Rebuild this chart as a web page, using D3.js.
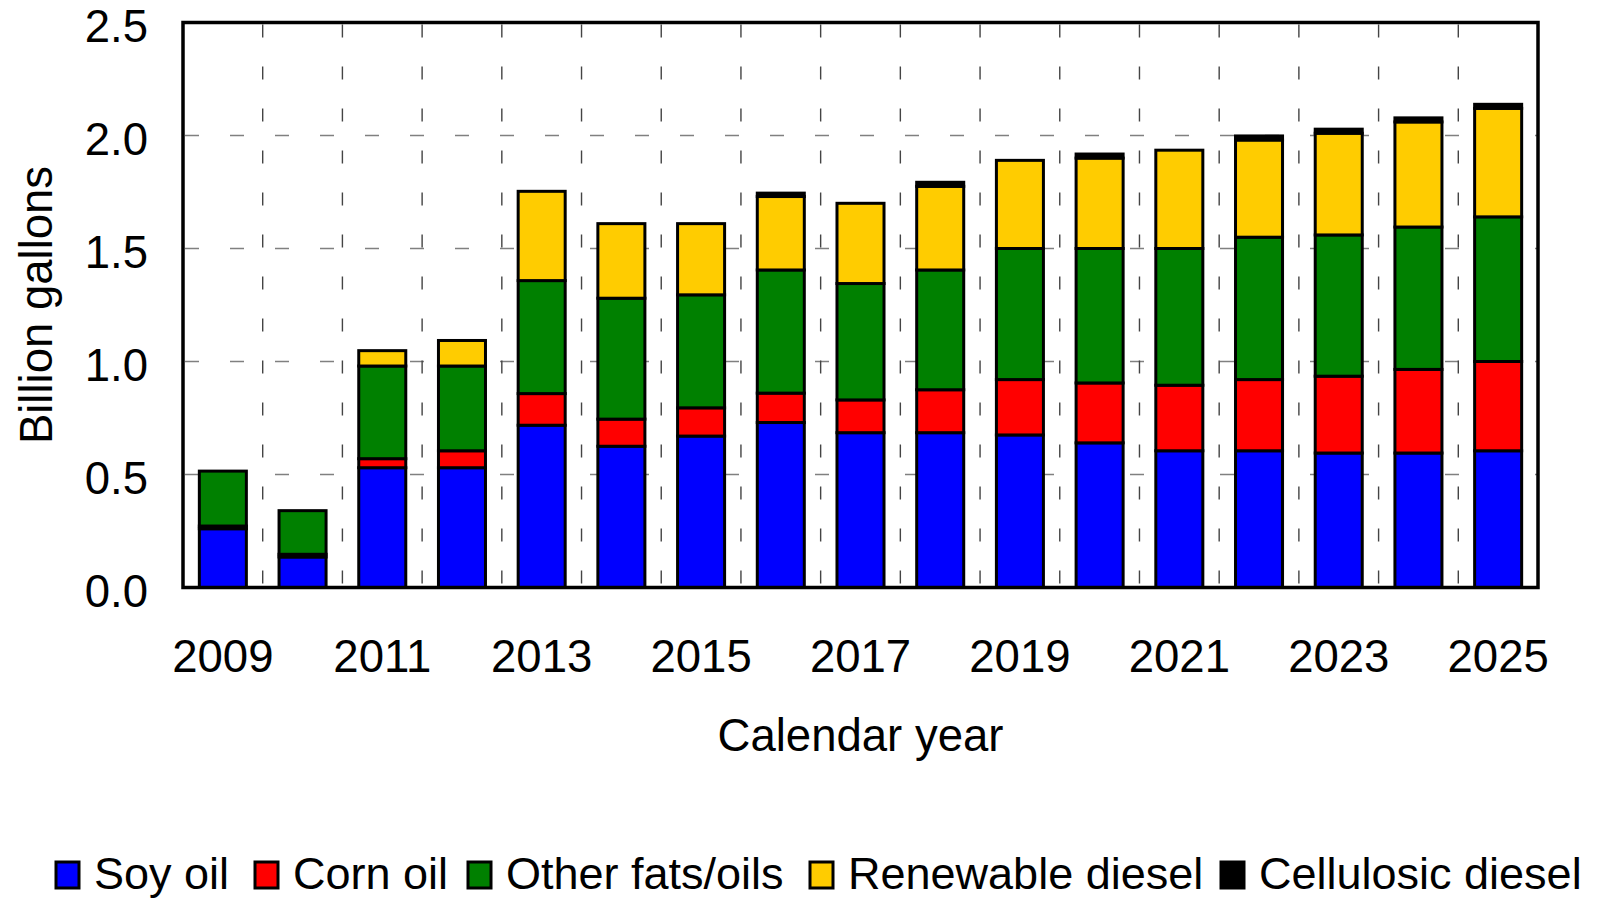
<!DOCTYPE html>
<html>
<head>
<meta charset="utf-8">
<script src="https://cdn.jsdelivr.net/npm/d3@7"></script>
<style>
  html, body { margin: 0; padding: 0; background: #fff; }
  svg { display: block; }
  text { font-family: "Liberation Sans", Arial, sans-serif; fill: #000; }
</style>
</head>
<body>
<svg id="chart" width="1602" height="900"></svg>
<script>
// Biodiesel and renewable diesel volumes by feedstock (billion gallons)
const years = [2009, 2010, 2011, 2012, 2013, 2014, 2015, 2016, 2017, 2018, 2019, 2020, 2021, 2022, 2023, 2024, 2025];
const soyOil          = [0.260, 0.135, 0.530, 0.530, 0.718, 0.625, 0.670, 0.730, 0.685, 0.685, 0.675, 0.640, 0.605, 0.605, 0.595, 0.595, 0.605];
const cornOil         = [0.012, 0.012, 0.040, 0.075, 0.140, 0.120, 0.125, 0.130, 0.145, 0.190, 0.245, 0.265, 0.290, 0.315, 0.340, 0.370, 0.395];
const otherFatsOils   = [0.243, 0.193, 0.410, 0.375, 0.500, 0.535, 0.500, 0.545, 0.515, 0.530, 0.580, 0.595, 0.605, 0.630, 0.625, 0.630, 0.640];
const renewableDiesel = [0.000, 0.000, 0.068, 0.113, 0.395, 0.330, 0.315, 0.325, 0.355, 0.370, 0.390, 0.400, 0.435, 0.430, 0.450, 0.465, 0.480];
const cellulosicDiesel= [0.000, 0.000, 0.000, 0.000, 0.000, 0.000, 0.000, 0.015, 0.000, 0.018, 0.000, 0.018, 0.000, 0.018, 0.018, 0.018, 0.018];

const seriesNames  = ["Soy oil", "Corn oil", "Other fats/oils", "Renewable diesel", "Cellulosic diesel"];
const seriesColors = ["#0000ff", "#ff0000", "#008000", "#ffcc00", "#000000"];
const yTicks = [0.0, 0.5, 1.0, 1.5, 2.0, 2.5];
const xTickYears = [2009, 2011, 2013, 2015, 2017, 2019, 2021, 2023, 2025];

const seriesValues = [soyOil, cornOil, otherFatsOils, renewableDiesel, cellulosicDiesel];
const rows = years.map((yr, i) => {
  const r = { year: yr };
  seriesNames.forEach((n, k) => { r[n] = seriesValues[k][i]; });
  return r;
});

const svg = d3.select("#chart");
const plot = { left: 183, right: 1538, top: 22.5, bottom: 587.5 };
const FONT = 45.5;

const x = d3.scaleBand()
  .domain(years)
  .range([plot.left, plot.right])
  .paddingInner(0.41)
  .paddingOuter(0.205);

const y = d3.scaleLinear()
  .domain([0, 2.5])
  .range([plot.bottom, plot.top]);

// Grid: horizontal dashed lines at value ticks, vertical dashed lines between bars
const grid = svg.append("g");
grid.selectAll("line.h")
  .data(yTicks.filter(t => t > 0 && t < 2.5))
  .join("line")
  .attr("x1", plot.left + 2).attr("x2", plot.right)
  .attr("y1", d => y(d)).attr("y2", d => y(d))
  .attr("stroke", "#808080").attr("stroke-width", 1.6)
  .attr("stroke-dasharray", "14,31");

const step = x.step();
grid.selectAll("line.v")
  .data(d3.range(1, years.length))
  .join("line")
  .attr("x1", i => plot.left + i * step).attr("x2", i => plot.left + i * step)
  .attr("y1", plot.top + 2).attr("y2", plot.bottom)
  .attr("stroke", "#444").attr("stroke-width", 1.4)
  .attr("stroke-dasharray", "13,29");

// Stacked bars
const stack = d3.stack().keys(seriesNames);
const layers = stack(rows);

svg.append("g")
  .selectAll("g")
  .data(layers)
  .join("g")
  .attr("fill", (d, i) => seriesColors[i])
  .selectAll("rect")
  .data(d => d.filter(p => p[1] - p[0] > 0))
  .join("rect")
  .attr("x", d => x(d.data.year))
  .attr("width", x.bandwidth())
  .attr("y", d => y(d[1]))
  .attr("height", d => y(d[0]) - y(d[1]))
  .attr("stroke", "#000")
  .attr("stroke-width", 3);

// Plot frame
svg.append("rect")
  .attr("x", plot.left).attr("y", plot.top)
  .attr("width", plot.right - plot.left).attr("height", plot.bottom - plot.top)
  .attr("fill", "none").attr("stroke", "#000").attr("stroke-width", 3.5);

// Y axis labels
const yAxis = d3.axisLeft(y).tickValues(yTicks).tickFormat(d3.format(".1f")).tickSize(0).tickPadding(35);
const gy = svg.append("g").attr("transform", `translate(${plot.left},0)`).call(yAxis);
gy.select(".domain").remove();
gy.selectAll("text").attr("font-size", FONT).attr("font-family", "Liberation Sans, Arial, sans-serif")
  .attr("fill", "#000").attr("dy", "0.37em").attr("y", 2);

// X axis labels (every other year)
const xAxis = d3.axisBottom(x).tickValues(xTickYears).tickSize(0).tickPadding(52);
const gx = svg.append("g").attr("transform", `translate(0,${plot.bottom})`).call(xAxis);
gx.select(".domain").remove();
gx.selectAll("text").attr("font-size", FONT).attr("font-family", "Liberation Sans, Arial, sans-serif").attr("fill", "#000");

// Axis titles
svg.append("text")
  .attr("x", (plot.left + plot.right) / 2).attr("y", 751)
  .attr("text-anchor", "middle").attr("font-size", FONT)
  .text("Calendar year");

svg.append("text")
  .attr("transform", `translate(52,${(plot.top + plot.bottom) / 2}) rotate(-90)`)
  .attr("text-anchor", "middle").attr("font-size", FONT)
  .text("Billion gallons");

// Legend: one swatch + label per series, laid out in a single row
const legendX = [56, 255, 468, 810, 1221];
const legend = svg.append("g");
seriesNames.forEach((name, i) => {
  legend.append("rect")
    .attr("x", legendX[i]).attr("y", 862)
    .attr("width", 23).attr("height", 26)
    .attr("fill", seriesColors[i]).attr("stroke", "#000").attr("stroke-width", 3);
  legend.append("text")
    .attr("x", legendX[i] + 38).attr("y", 889)
    .attr("font-size", 45)
    .text(name);
});
</script>
</body>
</html>
